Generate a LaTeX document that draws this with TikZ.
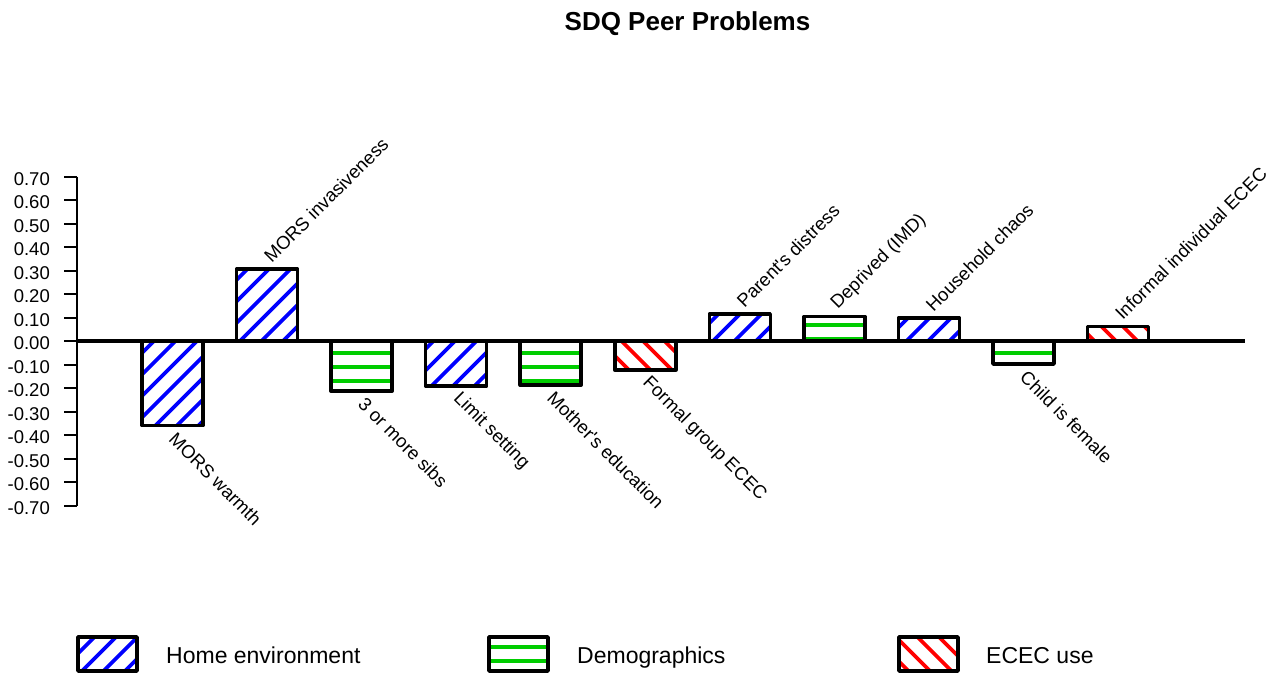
\documentclass[tikz,border=0pt]{standalone}
\usepackage{fontspec}
\newfontfamily\chartfont{Liberation Sans}
\definecolor{hatchblue}{RGB}{0,0,255}
\definecolor{hatchgreen}{RGB}{0,205,0}
\definecolor{hatchred}{RGB}{255,0,0}

\tikzset{
  homeline/.style={draw=hatchblue, line width=3.6pt},
  demoline/.style={draw=hatchgreen, line width=3.6pt},
  ecline/.style={draw=hatchred, line width=3.6pt},
  barframe/.style={draw=black, line width=3.6pt, line join=round},
  axisline/.style={draw=black, line width=2pt},
  zeroline/.style={draw=black, line width=3.6pt},
  ticklabel/.style={anchor=east, inner sep=0pt, font=\chartfont\fontsize{18.5}{21}\selectfont},
  barlabel/.style={anchor=west, inner sep=0pt, font=\chartfont\fontsize{18.5}{21}\selectfont},
  legendlabel/.style={anchor=base west, inner sep=0pt, font=\chartfont\fontsize{23}{26}\selectfont},
  titlelabel/.style={anchor=base, inner sep=0pt, font=\chartfont\bfseries\fontsize{26}{30}\selectfont},
}

% diagonal hatching rising to the right: lines x+y = const
\newcommand{\hatchhome}[4]{%
  \begin{scope}
    \clip (#1,#2) rectangle (#3,#4);
    \pgfmathsetmacro\hstart{495+21.5*floor((#1+#2-495)/21.5)}
    \pgfmathtruncatemacro\hcount{ceil((#3+#4-\hstart)/21.5)+1}
    \foreach \k in {0,...,\hcount}{
      \pgfmathsetmacro\hc{\hstart+21.5*\k}
      \draw[homeline] (\hc-#4-6,#4+6) -- (\hc-#2+6,#2-6);
    }
  \end{scope}}

% horizontal hatching: lines y = const
\newcommand{\hatchdemo}[4]{%
  \begin{scope}
    \clip (#1,#2) rectangle (#3,#4);
    \pgfmathsetmacro\hstart{325+14*floor((#2-325)/14)}
    \pgfmathtruncatemacro\hcount{ceil((#4-\hstart)/14)+1}
    \foreach \k in {0,...,\hcount}{
      \pgfmathsetmacro\hc{\hstart+14*\k}
      \draw[demoline] (#1-4,\hc) -- (#3+4,\hc);
    }
  \end{scope}}

% diagonal hatching falling to the right: lines x-y = const
\newcommand{\hatchecec}[4]{%
  \begin{scope}
    \clip (#1,#2) rectangle (#3,#4);
    \pgfmathsetmacro\hstart{259+21.5*floor((#1-#4-259)/21.5)}
    \pgfmathtruncatemacro\hcount{ceil((#3-#2-\hstart)/21.5)+1}
    \foreach \k in {0,...,\hcount}{
      \pgfmathsetmacro\hc{\hstart+21.5*\k}
      \draw[ecline] (\hc+#2-6,#2-6) -- (\hc+#4+6,#4+6);
    }
  \end{scope}}

% hatched bar with frame: kind, x1, y1, x2, y2
\newcommand{\chartbar}[5]{%
  \csname hatch#1\endcsname{#2}{#3}{#4}{#5}%
  \draw[barframe] (#2,#3) rectangle (#4,#5);}

\begin{document}
\begin{tikzpicture}[x=1pt,y=-1pt]
\useasboundingbox (0,0) rectangle (1280,675);

% title
\node[titlelabel] (title) at (687.5,30) {SDQ Peer Problems};

% y axis with ticks and labels
\draw[axisline] (77,176.7) -- (77,505.7);
\foreach \lab [count=\i from 0] in {0.70,0.60,0.50,0.40,0.30,0.20,0.10,0.00,-0.10,-0.20,-0.30,-0.40,-0.50,-0.60,-0.70}{
  \pgfmathsetmacro\ty{176.7+23.5*\i}
  \draw[axisline] (64,\ty) -- (77,\ty);
  \node[ticklabel] (tick\i) at (50,\ty+2) {\lab};
}

% bars: centres 94.55 apart, half width 30.5, zero at y = 341
\chartbar{home}{142.0}{341}{203.0}{425.5}
\chartbar{home}{236.55}{269}{297.55}{341}
\chartbar{demo}{331.1}{341}{392.1}{391}
\chartbar{home}{425.65}{341}{486.65}{386}
\chartbar{demo}{520.2}{341}{581.2}{385}
\chartbar{ecec}{614.75}{341}{675.75}{370}
\chartbar{home}{709.3}{314}{770.3}{341}
\chartbar{demo}{803.85}{316.5}{864.85}{341}
\chartbar{home}{898.4}{318}{959.4}{341}
\chartbar{demo}{992.95}{341}{1053.95}{364}
\chartbar{ecec}{1087.5}{326.3}{1148.5}{341}

% zero line
\draw[zeroline] (77,341) -- (1245,341);

% bar labels
\node[barlabel, rotate=-45] (lab1) at (172.5,436) {MORS warmth};
\node[barlabel, rotate=45] (lab2) at (267.05,259) {MORS invasiveness};
\node[barlabel, rotate=-45] (lab3) at (361.6,401) {3 or more sibs};
\node[barlabel, rotate=-45] (lab4) at (456.15,396) {Limit setting};
\node[barlabel, rotate=-45] (lab5) at (550.7,395) {Mother's education};
\node[barlabel, rotate=-45] (lab6) at (645.25,380) {Formal group ECEC};
\node[barlabel, rotate=45] (lab7) at (739.8,304) {Parent's distress};
\node[barlabel, rotate=45] (lab8) at (834.35,306.5) {Deprived (IMD)};
\node[barlabel, rotate=45] (lab9) at (928.9,308) {Household chaos};
\node[barlabel, rotate=-45] (lab10) at (1023.45,374) {Child is female};
\node[barlabel, rotate=45] (lab11) at (1118.0,316.3) {Informal individual ECEC};

% legend
\chartbar{home}{78}{637}{137}{671}
\node[legendlabel] (leg1) at (166,663) {Home environment};
\chartbar{demo}{489}{637}{548}{671}
\node[legendlabel] (leg2) at (577,663) {Demographics};
\chartbar{ecec}{899}{637}{958}{671}
\node[legendlabel] (leg3) at (986,663) {ECEC use};
\end{tikzpicture}
\end{document}
